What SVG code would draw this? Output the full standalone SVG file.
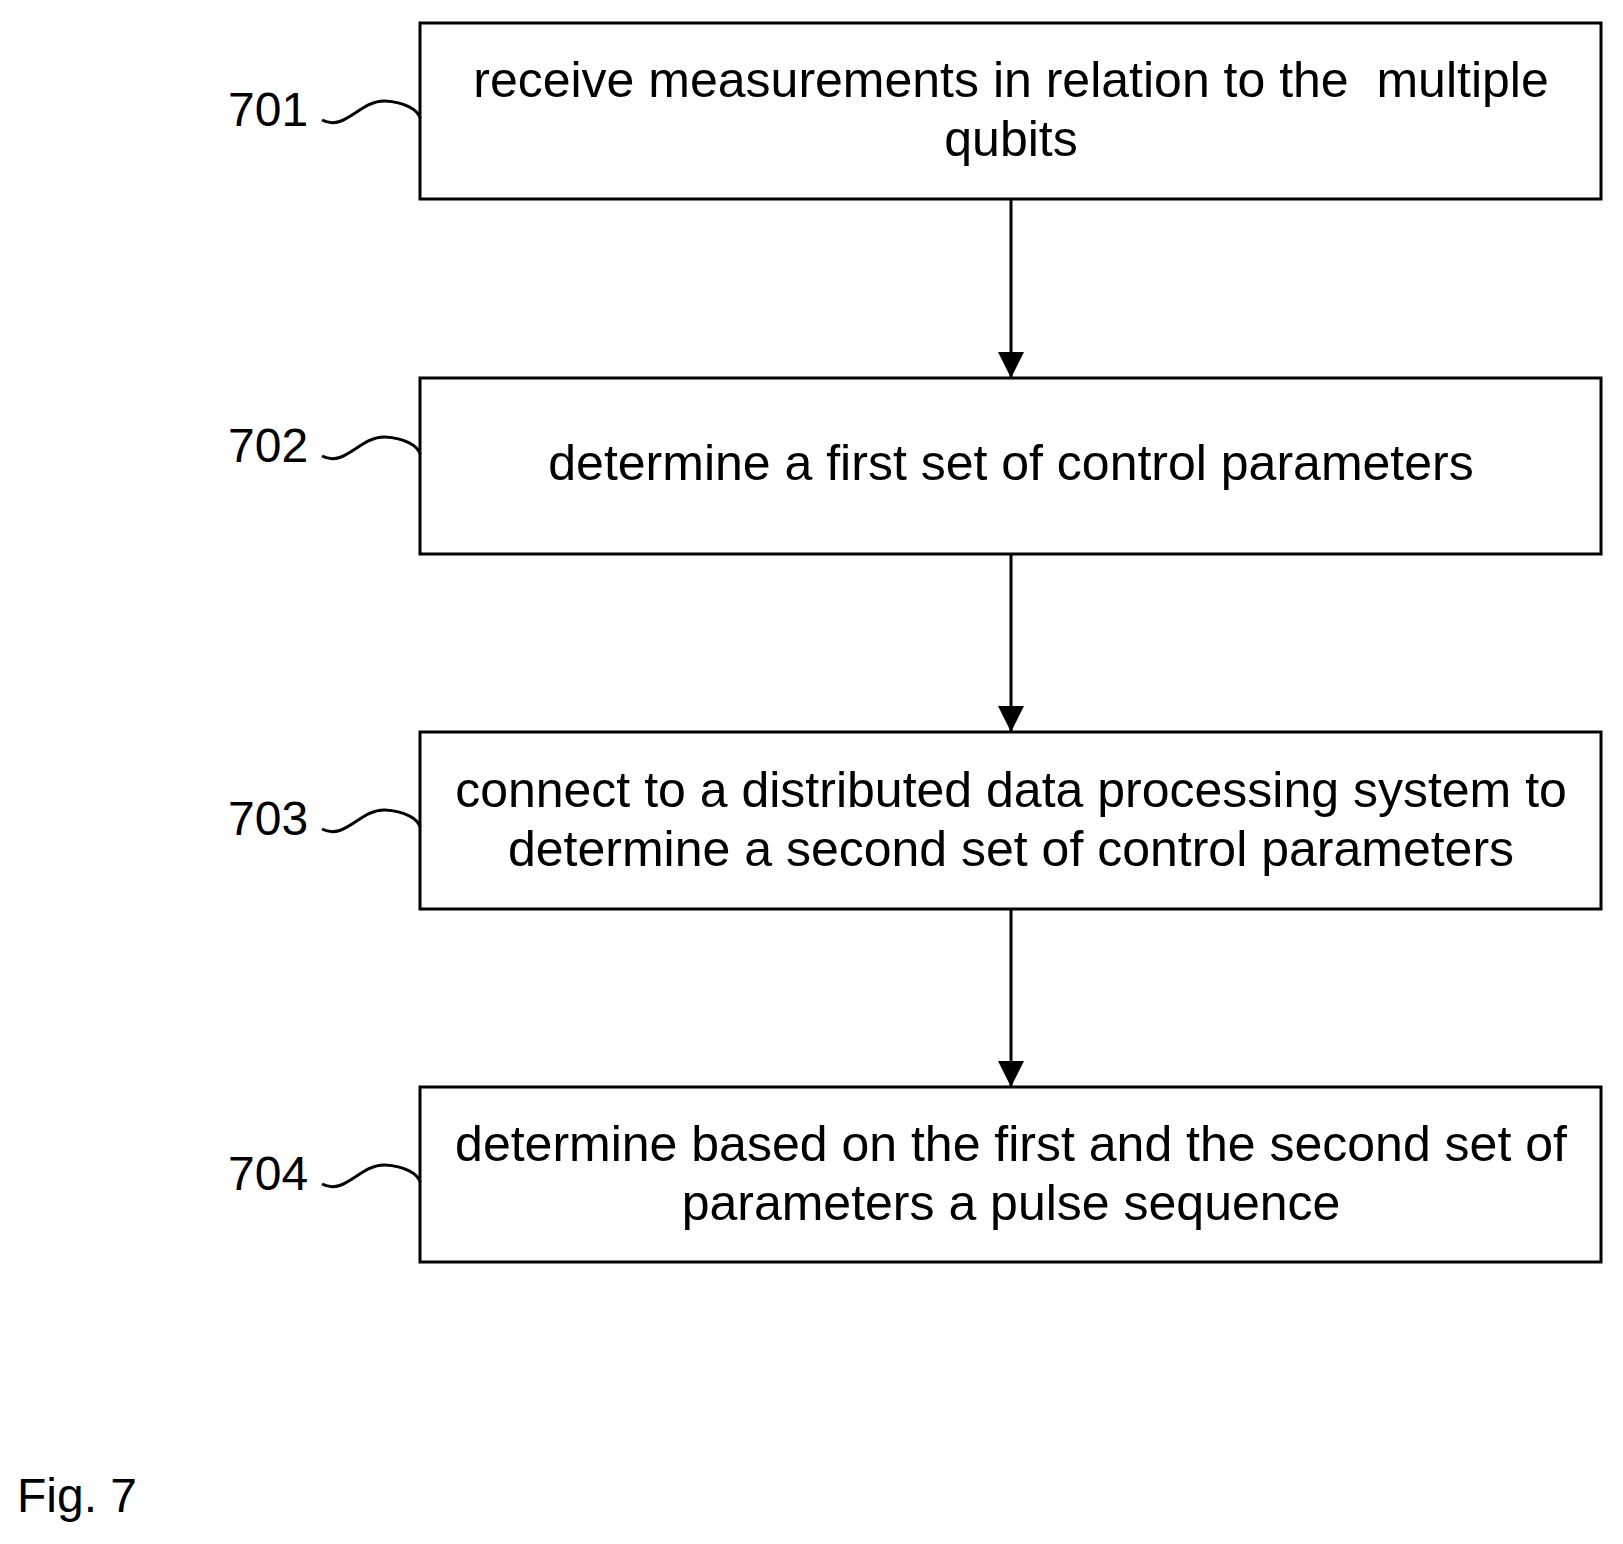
<svg xmlns="http://www.w3.org/2000/svg" width="1623" height="1544" viewBox="0 0 1623 1544">
<style>
.b{fill:#fff;stroke:#000;stroke-width:3}
.t{font-family:"Liberation Sans",Arial,sans-serif;font-size:50px;fill:#000;text-anchor:middle;white-space:pre}
.l{font-family:"Liberation Sans",Arial,sans-serif;font-size:48px;fill:#000}
.s{fill:none;stroke:#000;stroke-width:3}
.c{stroke:#000;stroke-width:3;marker-end:url(#a)}
</style>
<defs><marker id="a" markerWidth="26" markerHeight="26" refX="26" refY="13" orient="auto" markerUnits="userSpaceOnUse" viewBox="0 0 26 26"><path d="M0,0L26,13L0,26z" fill="#000"/></marker></defs>
<g id="connectors">
<line class="c" x1="1011" y1="199" x2="1011" y2="378"/>
<line class="c" x1="1011" y1="554" x2="1011" y2="732"/>
<line class="c" x1="1011" y1="909" x2="1011" y2="1087"/>
</g>
<g id="n701"><rect class="b" x="420" y="23" width="1181" height="176"/>
<text class="t" x="1011" y="97">receive measurements in relation to the  multiple</text>
<text class="t" x="1011" y="156">qubits</text>
<text class="l" x="228" y="126">701</text>
<path class="s" d="M322,120 C345,132 360,100 385,101 C405,102 418,110 420,118"/></g>
<g id="n702"><rect class="b" x="420" y="378" width="1181" height="176"/>
<text class="t" x="1011" y="480">determine a first set of control parameters</text>
<text class="l" x="228" y="462">702</text>
<path class="s" d="M322,456 C345,468 360,436 385,437 C405,438 418,446 420,454"/></g>
<g id="n703"><rect class="b" x="420" y="732" width="1181" height="177"/>
<text class="t" x="1011" y="807">connect to a distributed data processing system to</text>
<text class="t" x="1011" y="866">determine a second set of control parameters</text>
<text class="l" x="228" y="835">703</text>
<path class="s" d="M322,829 C345,841 360,809 385,810 C405,811 418,819 420,827"/></g>
<g id="n704"><rect class="b" x="420" y="1087" width="1181" height="175"/>
<text class="t" x="1011" y="1161">determine based on the first and the second set of</text>
<text class="t" x="1011" y="1220">parameters a pulse sequence</text>
<text class="l" x="228" y="1190">704</text>
<path class="s" d="M322,1184 C345,1196 360,1164 385,1165 C405,1166 418,1174 420,1182"/></g>
<text class="l" x="17" y="1512">Fig. 7</text>
</svg>
